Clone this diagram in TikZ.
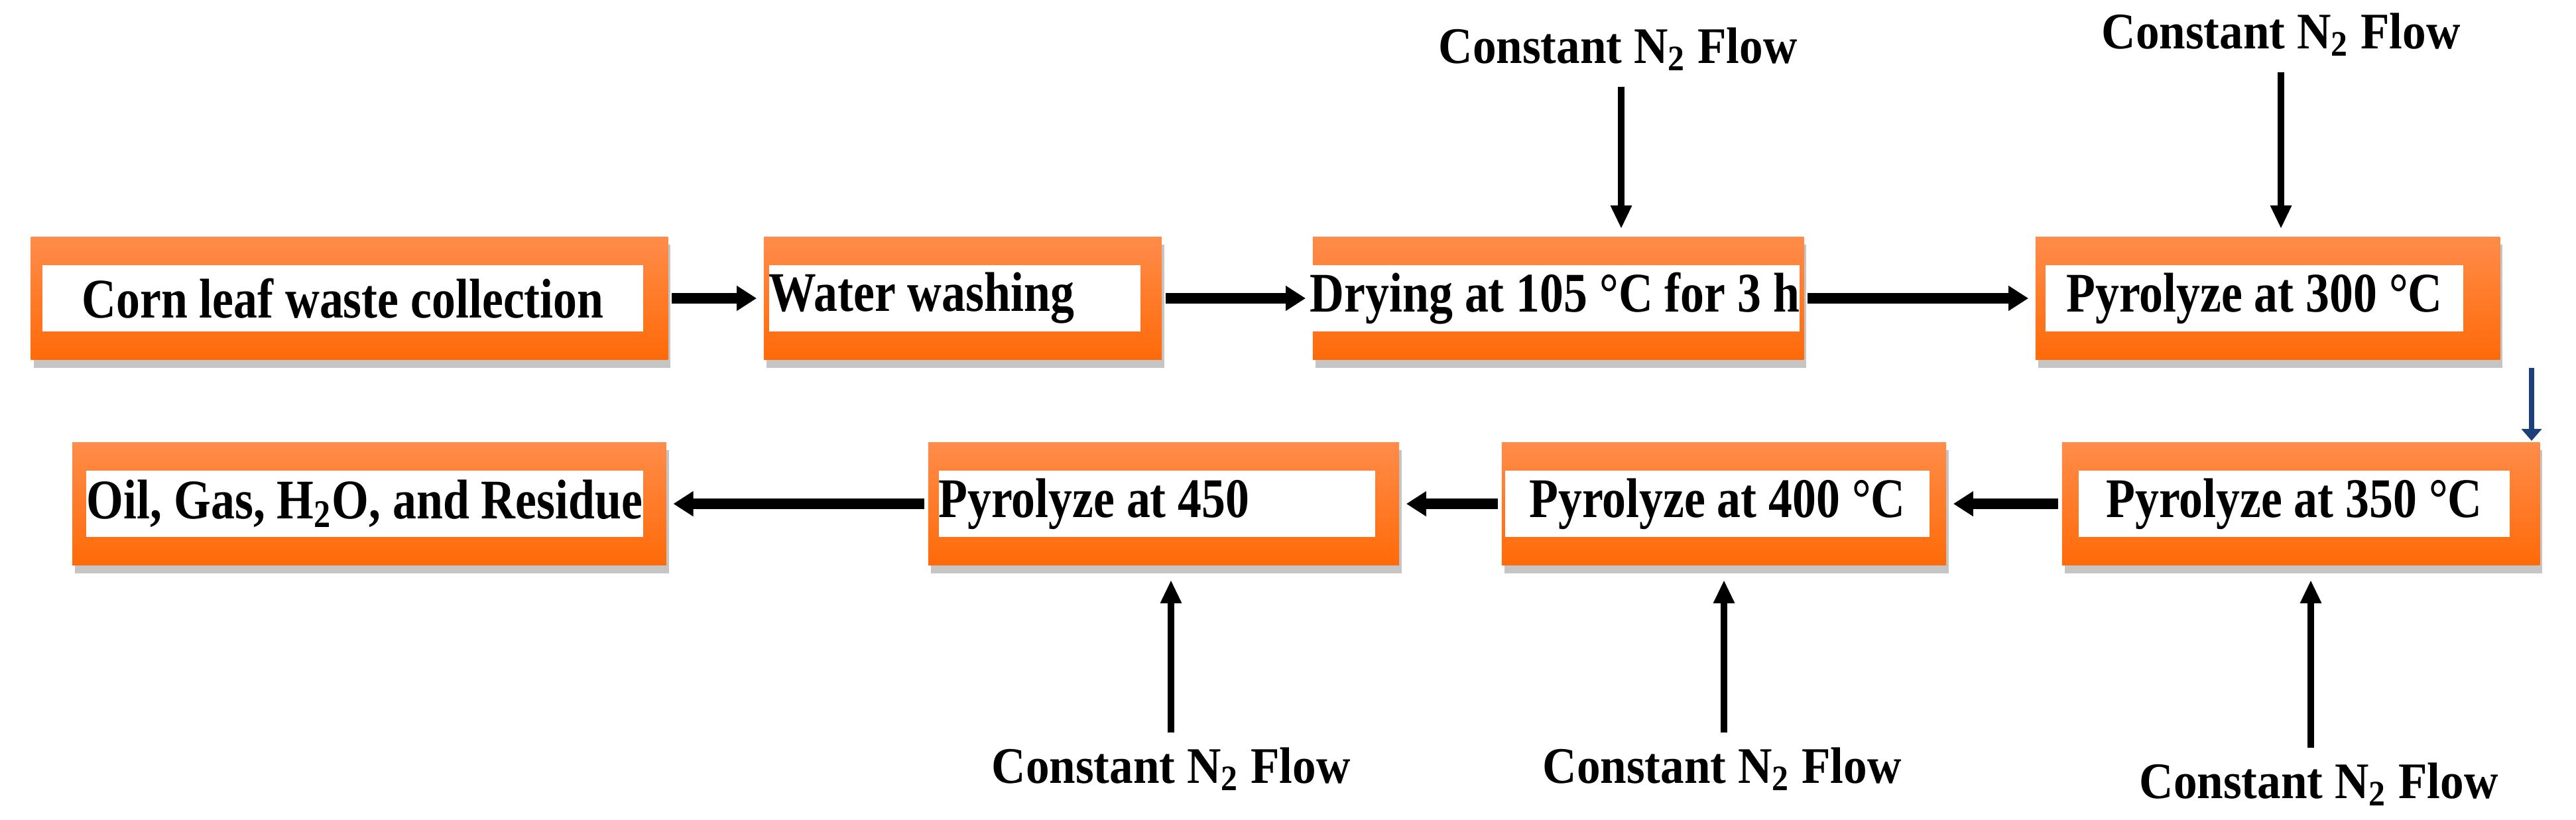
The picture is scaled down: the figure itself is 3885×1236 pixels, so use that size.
\documentclass[tikz,border=0pt]{standalone}
\usepackage{fontspec}
\setmainfont{Liberation Serif}[FakeStretch=0.85]
\newfontfamily\labfont{Liberation Serif}[FakeStretch=0.92]
\usetikzlibrary{arrows.meta,shadows}
\definecolor{otop}{HTML}{FF8C4A}
\definecolor{obot}{HTML}{FF6A08}
\definecolor{darkblue}{HTML}{1F3F7A}
\tikzset{
  outerbox/.style={top color=otop,bottom color=obot,draw=none,
    drop shadow={shadow xshift=0.04cm,shadow yshift=-0.12cm,fill=black!45},
    minimum height=1.85cm},
  innerbox/.style={fill=white,draw=none,minimum height=1.0cm,inner sep=0pt,
    font=\fontsize{24}{27}\selectfont\bfseries,anchor=center},
  flow/.style={-{Triangle[length=0.35cm,width=0.3cm]},line width=2.6pt,black},
  flowlab/.style={font=\labfont\fontsize{22}{25}\selectfont\bfseries},
  thick arrow/.style={-{Triangle[length=0.3cm,width=0.36cm]},line width=4.5pt,black}
}
\begin{document}
\begin{tikzpicture}[x=0.01cm,y=-0.01cm]
\useasboundingbox (0,0) rectangle (3885,1236);
% top row
\node[outerbox,minimum width=9.6cm] (b1) at (527,450) {};
\node[innerbox,minimum width=9.05cm] (t1) at (517,450) {Corn leaf waste collection};
\node[outerbox,minimum width=6.0cm] (b2) at (1452,450) {};
\node[innerbox,minimum width=5.45cm,align=left] (t2) at (1440,450) {Water washing\hspace{1.0cm}};
\node[outerbox,minimum width=7.4cm] (b3) at (2350,450) {};
\node[innerbox,minimum width=7.1cm] (t3) at (2345,450) {Drying at 105 °C for 3 h};
\node[outerbox,minimum width=7.0cm] (b4) at (3420,450) {};
\node[innerbox,minimum width=6.3cm] (t4) at (3400,450) {Pyrolyze at 300 °C};
% bottom row
\node[outerbox,minimum width=8.95cm] (b8) at (557,760) {};
\node[innerbox,minimum width=8.4cm] (t8) at (550,760) {Oil, Gas, H\textsubscript{2}O, and Residue};
\node[outerbox,minimum width=7.1cm] (b7) at (1755,760) {};
\node[innerbox,minimum width=6.5cm,align=left] (t7) at (1745,760) {Pyrolyze at 450\hspace{1.9cm}};
\node[outerbox,minimum width=6.7cm] (b6) at (2600,760) {};
\node[innerbox,minimum width=6.4cm] (t6) at (2590,760) {Pyrolyze at 400 °C};
\node[outerbox,minimum width=7.2cm] (b5) at (3470,760) {};
\node[innerbox,minimum width=6.5cm] (t5) at (3460,760) {Pyrolyze at 350 °C};
% horizontal arrows
\draw[thick arrow] (b1.east) ++(5,0) -- ([xshift=-0.1cm]b2.west);
\draw[thick arrow] (b2.east) ++(5,0) -- ([xshift=-0.1cm]b3.west);
\draw[thick arrow] (b3.east) ++(5,0) -- ([xshift=-0.1cm]b4.west);
\draw[thick arrow] (b5.west) ++(-5,0) -- ([xshift=0.1cm]b6.east);
\draw[thick arrow] (b6.west) ++(-5,0) -- ([xshift=0.1cm]b7.east);
\draw[thick arrow] (b7.west) ++(-5,0) -- ([xshift=0.1cm]b8.east);
% blue arrow
\coordinate (bs) at (3818,555);
\coordinate (be) at (3818,665);
\draw[-{Triangle[length=0.18cm,width=0.3cm]},line width=2.5pt,darkblue] (bs) -- (be);
% N2 flows top
\node[flowlab] (f3) at (2440,74) {Constant N\textsubscript{2} Flow};
\node[flowlab] (f4) at (3440,52) {Constant N\textsubscript{2} Flow};
\coordinate (e3) at (2445,345);
\coordinate (e4) at (3440,345);
\draw[flow] (f3.south -| e3) ++(0,12) -- (e3);
\draw[flow] (f4.south -| e4) ++(0,12) -- (e4);
% N2 flows bottom
\node[flowlab] (f7) at (1766,1160) {Constant N\textsubscript{2} Flow};
\node[flowlab] (f6) at (2597,1160) {Constant N\textsubscript{2} Flow};
\node[flowlab] (f5) at (3497,1183) {Constant N\textsubscript{2} Flow};
\coordinate (e7) at (1766,875);
\coordinate (e6) at (2600,875);
\coordinate (e5) at (3485,875);
\draw[flow] (f7.north -| e7) ++(0,-10) -- (e7);
\draw[flow] (f6.north -| e6) ++(0,-10) -- (e6);
\draw[flow] (f5.north -| e5) ++(0,-10) -- (e5);
\end{tikzpicture}
\end{document}
